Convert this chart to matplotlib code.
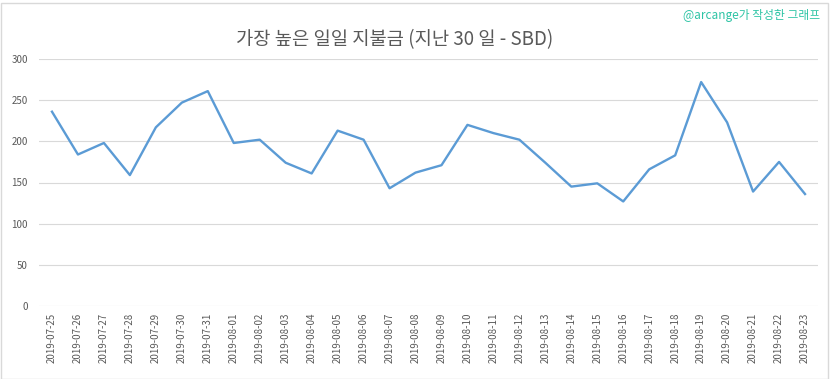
import matplotlib.pyplot as plt
from matplotlib.patches import Rectangle

plt.rcParams['font.family'] = ['Noto Sans CJK KR', 'DejaVu Sans']

# daily highest payout, last 30 days (SBD)
dates = ["2019-07-25", "2019-07-26", "2019-07-27", "2019-07-28", "2019-07-29",
         "2019-07-30", "2019-07-31", "2019-08-01", "2019-08-02", "2019-08-03",
         "2019-08-04", "2019-08-05", "2019-08-06", "2019-08-07", "2019-08-08",
         "2019-08-09", "2019-08-10", "2019-08-11", "2019-08-12", "2019-08-13",
         "2019-08-14", "2019-08-15", "2019-08-16", "2019-08-17", "2019-08-18",
         "2019-08-19", "2019-08-20", "2019-08-21", "2019-08-22", "2019-08-23"]
payouts = [236, 184, 198, 159, 217, 247, 261, 198, 202, 174,
           161, 213, 202, 143, 162, 171, 220, 210, 202, 174,
           145, 149, 127, 166, 183, 272, 223, 139, 175, 136]
yticks = [0, 50, 100, 150, 200, 250, 300]

TEXT = "#595959"
GRID = "#D9D9D9"

fig = plt.figure(figsize=(8.33, 3.79), dpi=100)
ax = fig.add_axes([39 / 833, 73 / 379, 779 / 833, 247 / 379])

x = range(len(dates))
ax.plot(x, payouts, color="#5B9BD5", linewidth=1.7, solid_joinstyle="round")

ax.set_xlim(-0.5, len(dates) - 0.5)
ax.set_ylim(0, 300)
ax.set_yticks(yticks)
ax.set_xticks(list(x))
ax.set_xticklabels(dates, rotation=90)
ax.tick_params(axis="both", length=0, colors=TEXT, labelsize=7)
ax.tick_params(axis="y", pad=8)
ax.tick_params(axis="x", pad=5)
ax.grid(axis="y", color=GRID, linewidth=0.8)
ax.set_axisbelow(True)
for s in ax.spines.values():
    s.set_visible(False)

fig.text(395 / 833, 1 - 40 / 379, "가장 높은 일일 지불금 (지난 30 일 - SBD)",
         ha="center", va="center", fontsize=13.5, color=TEXT)
fig.text(820 / 833, 1 - 16 / 379, "@arcange가 작성한 그래프",
         ha="right", va="center", fontsize=8.5, color="#2EC4A5")

# light border around the whole chart
fig.patches.append(Rectangle((0.5 / 833, 0.5 / 379), 1 - 6 / 833, 1 - 3 / 379,
                             transform=fig.transFigure, fill=False,
                             edgecolor=GRID, linewidth=1))

fig.savefig("out.png", dpi=100)
